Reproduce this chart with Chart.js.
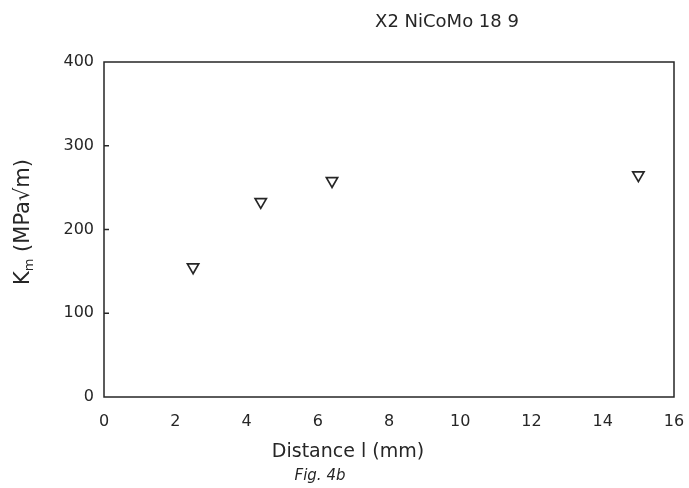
<!DOCTYPE html>
<html>
<head>
<meta charset="utf-8">
<script src="https://cdn.jsdelivr.net/npm/chart.js@4/dist/chart.umd.min.js"></script>
<style>
  html, body { margin: 0; padding: 0; background: #fff; }
  #wrap { width: 689px; height: 488px; }
</style>
</head>
<body>
<div id="wrap"><canvas id="fig4b" width="689" height="488"></canvas></div>
<script>
// values
var distance = [2.5, 4.4, 6.4, 15];
var km = [155, 233, 258, 265];
var xTicks = [0, 2, 4, 6, 8, 10, 12, 14, 16];
var yTicks = [0, 100, 200, 300, 400];

var ink = '#262626';
var font = "'DejaVu Sans', sans-serif";

var points = [];
distance.forEach(function(d, i) {
    points.push({ x: d, y: km[i] });
});

// frame, inner ticks and the hand-placed texts of the scanned figure
var paperPlugin = {
    id: 'paper',
    afterDraw: function(chart) {
        var ctx = chart.ctx;
        var a = chart.chartArea;
        var ys = chart.scales.y;
        ctx.save();
        ctx.strokeStyle = ink;
        ctx.lineWidth = 1.5;
        ctx.strokeRect(a.left, a.top, a.right - a.left, a.bottom - a.top);
        [100, 200, 300].forEach(function(v) {
            var py = ys.getPixelForValue(v);
            ctx.beginPath();
            ctx.moveTo(a.left, py);
            ctx.lineTo(a.left + 5, py);
            ctx.stroke();
        });

        ctx.fillStyle = ink;
        ctx.textAlign = 'center';
        ctx.textBaseline = 'middle';
        ctx.font = "18px " + font;
        ctx.fillText('X2 NiCoMo 18 9', 447, 22);

        ctx.font = "19px " + font;
        ctx.fillText('Distance l (mm)', 348, 452);
        ctx.font = "italic 15px " + font;
        ctx.fillText('Fig. 4b', 320, 476);

        // y title, rotated, with subscript m
        ctx.translate(24, 222);
        ctx.rotate(-Math.PI / 2);
        ctx.textAlign = 'left';
        var main = 'K';
        var rest = ' (MPa\u221Am)';
        ctx.font = "21px " + font;
        var wK = ctx.measureText(main).width;
        ctx.font = "13px " + font;
        var wm = ctx.measureText('m').width;
        ctx.font = "21px " + font;
        var wr = ctx.measureText(rest).width;
        var x0 = -(wK + wm + wr) / 2;
        ctx.fillText(main, x0, 0);
        ctx.font = "13px " + font;
        ctx.fillText('m', x0 + wK, 6);
        ctx.font = "21px " + font;
        ctx.fillText(rest, x0 + wK + wm, 0);
        ctx.restore();
    }
};

new Chart(document.getElementById('fig4b'), {
    type: 'scatter',
    data: {
        datasets: [{
            label: 'X2 NiCoMo 18 9',
            data: points,
            pointStyle: 'triangle',
            rotation: 180,
            pointRadius: 6.5,
            pointBorderWidth: 1.7,
            borderColor: ink,
            backgroundColor: '#fff',
            pointBackgroundColor: '#fff',
            pointBorderColor: ink
        }]
    },
    options: {
        responsive: false,
        animation: false,
        layout: { padding: { left: 0, top: 62, right: 15, bottom: 0 } },
        plugins: {
            legend: { display: false },
            title: { display: false },
            tooltip: { enabled: false }
        },
        scales: {
            x: {
                type: 'linear',
                min: 0,
                max: 16,
                afterFit: function(s) {
                    s.height = 91;
                    s.paddingLeft = 0;
                    s.paddingRight = 0;
                },
                afterBuildTicks: function(s) {
                    s.ticks = xTicks.map(function(v) { return { value: v }; });
                },
                grid: { display: false, drawTicks: false },
                border: { display: false },
                ticks: { color: ink, padding: 15, font: { family: font, size: 16 } }
            },
            y: {
                type: 'linear',
                min: 0,
                max: 400,
                afterFit: function(s) {
                    s.width = 104;
                    s.paddingTop = 0;
                    s.paddingBottom = 0;
                },
                afterBuildTicks: function(s) {
                    s.ticks = yTicks.map(function(v) { return { value: v }; });
                },
                grid: { display: false, drawTicks: false },
                border: { display: false },
                ticks: { color: ink, padding: 10, font: { family: font, size: 16 } }
            }
        }
    },
    plugins: [paperPlugin]
});
</script>
</body>
</html>
